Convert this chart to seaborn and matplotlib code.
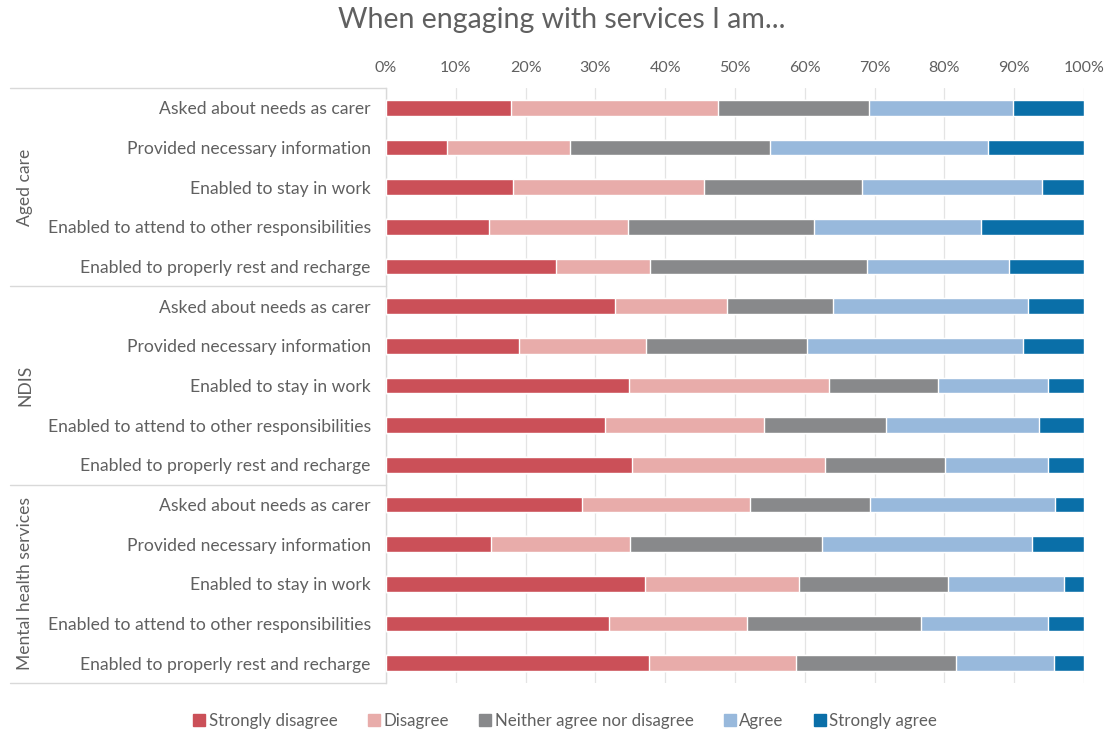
import numpy as np
import pandas as pd
import matplotlib
matplotlib.use("Agg")
import matplotlib.pyplot as plt
import seaborn as sns
from matplotlib.lines import Line2D
from matplotlib.transforms import blended_transform_factory

groups = ["Aged care", "NDIS", "Mental health services"]
items = ["Asked about needs as carer",
         "Provided necessary information",
         "Enabled to stay in work",
         "Enabled to attend to other responsibilities",
         "Enabled to properly rest and recharge"]
responses = ["Strongly disagree", "Disagree", "Neither agree nor disagree",
             "Agree", "Strongly agree"]

strongly_disagree = [17.9, 8.8, 18.2, 14.7, 24.3,
                     32.8, 19.0, 34.8, 31.4, 35.3,
                     28.1, 15.1, 37.1, 32.0, 37.7]
disagree = [29.6, 17.5, 27.3, 20.0, 13.5,
            16.0, 18.3, 28.6, 22.7, 27.6,
            24.1, 19.9, 22.1, 19.7, 21.1]
neither = [21.7, 28.7, 22.7, 26.6, 31.1,
           15.3, 23.0, 15.7, 17.6, 17.2,
           17.2, 27.5, 21.3, 25.0, 22.9]
agree = [20.6, 31.2, 25.8, 24.0, 20.3,
         27.9, 31.0, 15.8, 21.9, 14.8,
         26.5, 30.0, 16.7, 18.2, 14.0]
strongly_agree = [10.2, 13.8, 6.0, 14.7, 10.8,
                  8.0, 8.7, 5.1, 6.4, 5.1,
                  4.1, 7.5, 2.8, 5.1, 4.3]

colors = ["#CB5058", "#E8ACAA", "#88898B", "#98B9DC", "#0A6FA8"]
text_color = "#606060"

series = [strongly_disagree, disagree, neither, agree, strongly_agree]
rows = [f"{g}|{it}" for g in groups for it in items]
vals = np.array(series, dtype=float)
vals = vals / vals.sum(axis=0) * 100
cum = np.cumsum(vals, axis=0)
df = pd.DataFrame({"row": rows})
for k in range(5):
    df[f"cum{k}"] = cum[k]

sns.set_theme(style="white")
plt.rcParams["font.family"] = ["Lato", "DejaVu Sans"]

fig = plt.figure(figsize=(11.12, 7.35), dpi=100)
ax = fig.add_axes([386 / 1112, 1 - 683 / 735, 698 / 1112, 595 / 735])

for k in range(4, -1, -1):
    sns.barplot(data=df, x=f"cum{k}", y="row", order=rows, orient="h",
                color=colors[k], saturation=1, width=0.4, ax=ax, zorder=3)

ax.set_xlim(0, 100)
ax.set_ylim(14.5, -0.5)
ax.set_xlabel("")
ax.set_ylabel("")
ax.xaxis.tick_top()
ax.set_xticks(np.arange(0, 101, 10))
ax.set_xticklabels([f"{v}%" for v in range(0, 101, 10)])
ax.set_yticks(range(15))
ax.set_yticklabels(items * 3)
ax.tick_params(axis="x", length=0, pad=9, labelsize=11.5, labelcolor=text_color)
ax.tick_params(axis="y", length=0, pad=11, labelsize=12.6, labelcolor=text_color)
ax.grid(axis="x", color="#E4E4E4", linewidth=0.9, zorder=0)
ax.set_axisbelow(True)
for s in ["top", "right", "bottom"]:
    ax.spines[s].set_visible(False)
ax.spines["left"].set_color("#D9D9D9")
ax.spines["left"].set_linewidth(1.0)

tr = blended_transform_factory(ax.transAxes, ax.transData)
x0 = (10 - 386) / 698
for yb in [-0.5, 4.5, 9.5, 14.5]:
    ax.add_line(Line2D([x0, 0], [yb, yb], transform=tr, color="#D9D9D9",
                       linewidth=1.0, clip_on=False))
gx = (25 - 386) / 698
for gi, g in enumerate(groups):
    ax.text(gx, gi * 5 + 2, g, transform=tr, rotation=90, ha="center",
            va="center", fontsize=12.6, color=text_color)

fig.text(0.505, 1 - 20 / 735, "When engaging with services I am...",
         ha="center", va="center", fontsize=20.5, color=text_color)

handles = [Line2D([], [], marker="s", linestyle="", markersize=8,
                  color=c) for c in colors]
fig.legend(handles, responses, loc="center", bbox_to_anchor=(0.508, 1 - 721 / 735),
           ncol=5, frameon=False, fontsize=12.2, labelcolor=text_color,
           handletextpad=0.15, columnspacing=1.75, handlelength=0.8)

fig.savefig("out.png", dpi=100)
